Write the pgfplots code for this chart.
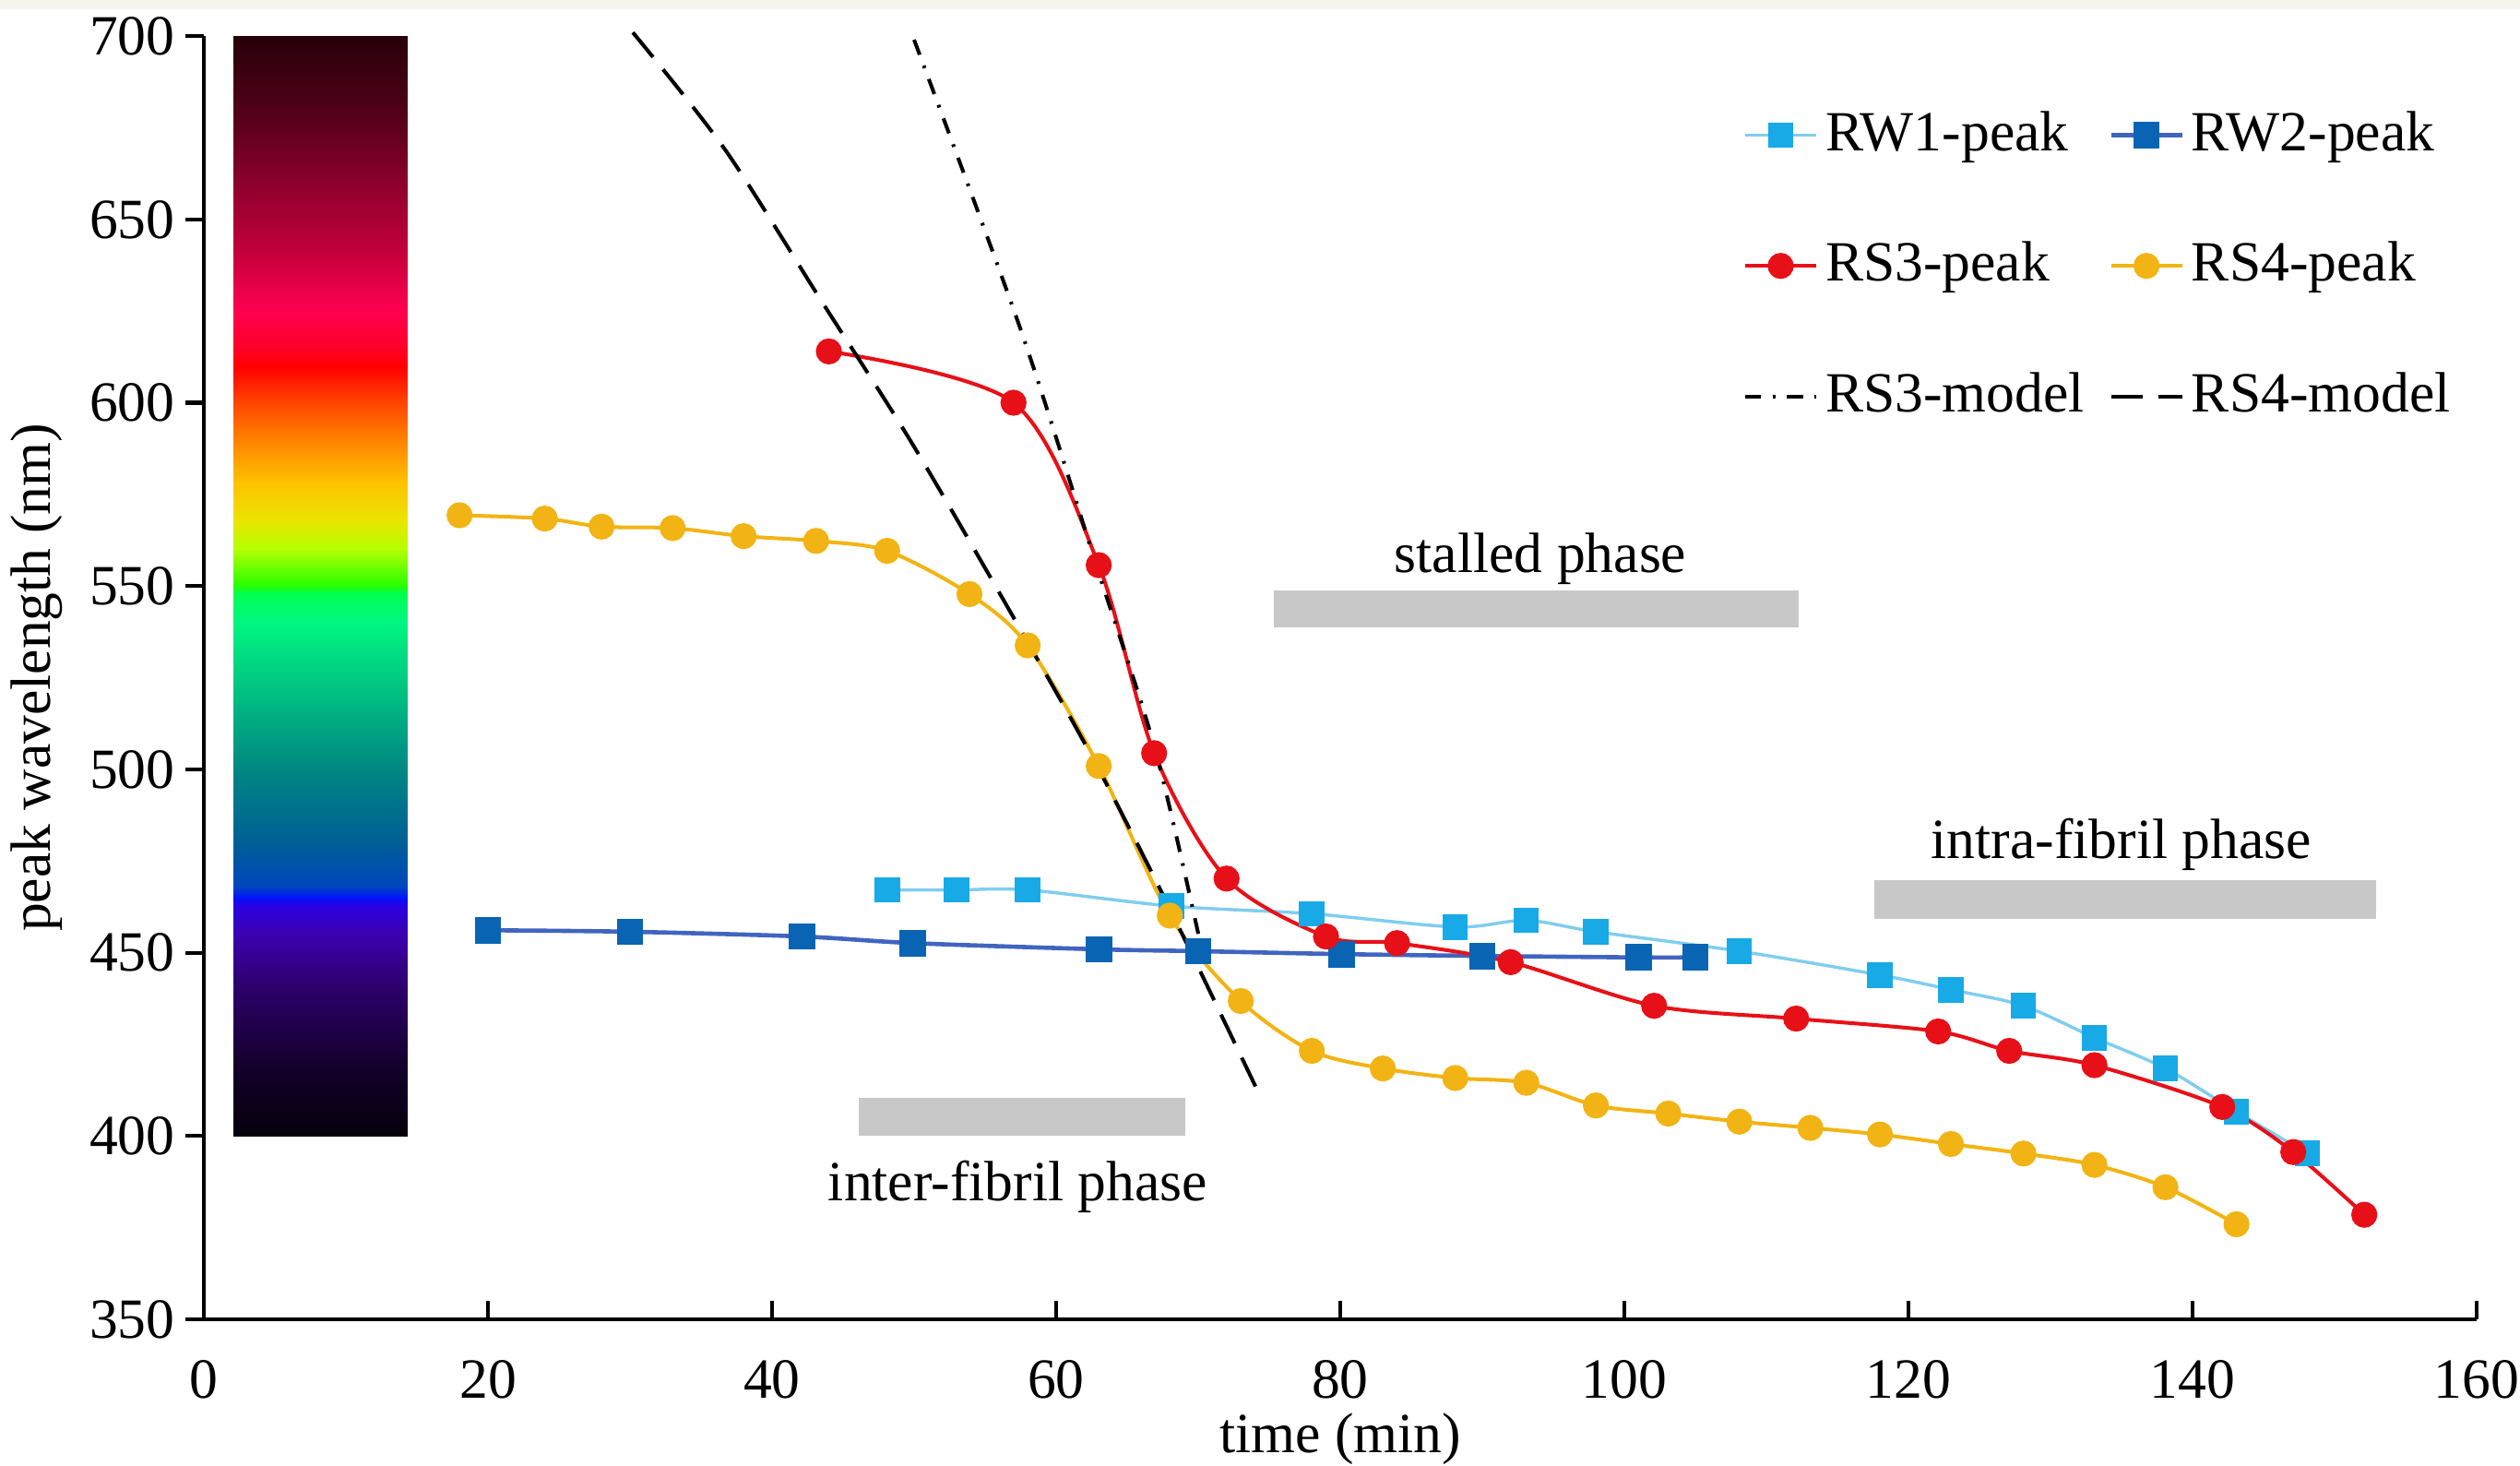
\documentclass[border=0pt]{standalone}
\usepackage{fontspec}
\setmainfont{Liberation Serif}
\usepackage{pgfplots}
\pgfplotsset{compat=1.18}
\usetikzlibrary{calc}
\definecolor{rwone}{RGB}{24,170,230}
\definecolor{rwoneline}{RGB}{128,205,240}
\definecolor{rwtwo}{RGB}{10,100,180}
\definecolor{rwtwoline}{RGB}{64,100,192}
\definecolor{rsthree}{RGB}{232,16,24}
\definecolor{rsfour}{RGB}{242,180,20}
\definecolor{phasegray}{RGB}{200,200,200}
\definecolor{topband}{RGB}{246,243,236}
\pgfplotsset{colormap={spectrum}{
 rgb255(0pt)=(5,0,12) rgb255(20pt)=(20,0,45) rgb255(40pt)=(45,0,105) rgb255(55pt)=(60,0,175)
 rgb255(63pt)=(40,0,225) rgb255(65pt)=(0,20,255) rgb255(68pt)=(0,70,190) rgb255(80pt)=(0,95,150)
 rgb255(100pt)=(0,135,130) rgb255(120pt)=(0,190,130) rgb255(140pt)=(0,245,130) rgb255(148pt)=(0,255,80)
 rgb255(150pt)=(40,255,0) rgb255(160pt)=(180,255,0) rgb255(168pt)=(235,228,0) rgb255(178pt)=(255,195,0)
 rgb255(190pt)=(255,130,0) rgb255(200pt)=(255,70,0) rgb255(210pt)=(255,0,0) rgb255(215pt)=(255,0,40)
 rgb255(225pt)=(255,0,80) rgb255(240pt)=(200,0,60) rgb255(260pt)=(140,0,45) rgb255(280pt)=(80,0,25)
 rgb255(300pt)=(40,0,8)}}
\begin{document}
\fontsize{10.7}{12.8}\selectfont
\begin{tikzpicture}
\begin{axis}[name=ax,
  scale only axis, width=428pt, height=241.6pt,
  xmin=0, xmax=160, ymin=350, ymax=700,
  axis lines*=left, axis line style={line width=0.7pt},
  xtick={0,20,...,160}, ytick={350,400,...,700},
  tick align=inside, major tick length=3.4pt,
  tick style={line width=0.7pt, black},
  ytick style={xshift=-3.4pt},
  xticklabel style={yshift=-4pt},
  yticklabel style={xshift=-1.7pt},
  /pgf/number format/assume math mode=true,
  xlabel={time (min)},
  xlabel style={at={(axis description cs:0.5,0)}, anchor=north, yshift=-14pt},
  clip=false,
  legend columns=2,
  legend cell align=left,
  legend style={at={(axis cs:108.3,680.7)}, anchor=north west, draw=none, fill=none, inner sep=0pt,
    row sep=14.4pt,
    /tikz/every odd column/.append style={column sep=0.8pt},
    /tikz/every even column/.append style={column sep=4pt},
    nodes={inner sep=0.6pt}},
  legend image code/.code={\draw[#1, mark repeat=2, mark phase=2] plot coordinates {(0pt,0pt) (6.7pt,0pt) (13.4pt,0pt)};},
]
% colour bar
\addplot[surf, shader=interp, colormap name=spectrum, point meta=y, point meta min=400, point meta max=700,
  mesh/rows=25, mesh/cols=2, forget plot] coordinates {
(2.1,400) (14.3,400)
(2.1,420) (14.3,420)
(2.1,440) (14.3,440)
(2.1,455) (14.3,455)
(2.1,463) (14.3,463)
(2.1,465) (14.3,465)
(2.1,468) (14.3,468)
(2.1,480) (14.3,480)
(2.1,500) (14.3,500)
(2.1,520) (14.3,520)
(2.1,540) (14.3,540)
(2.1,548) (14.3,548)
(2.1,550) (14.3,550)
(2.1,560) (14.3,560)
(2.1,568) (14.3,568)
(2.1,578) (14.3,578)
(2.1,590) (14.3,590)
(2.1,600) (14.3,600)
(2.1,610) (14.3,610)
(2.1,615) (14.3,615)
(2.1,625) (14.3,625)
(2.1,640) (14.3,640)
(2.1,660) (14.3,660)
(2.1,680) (14.3,680)
(2.1,700) (14.3,700)
};
% phase bars
\addplot[fill=phasegray, draw=none, forget plot] coordinates {(75.3,538.6) (112.3,538.6) (112.3,548.7) (75.3,548.7)} -- cycle;
\addplot[fill=phasegray, draw=none, forget plot] coordinates {(117.6,459.2) (152.9,459.2) (152.9,469.7) (117.6,469.7)} -- cycle;
\addplot[fill=phasegray, draw=none, forget plot] coordinates {(46.1,400.0) (69.1,400.0) (69.1,410.5) (46.1,410.5)} -- cycle;
\node[anchor=base] at (axis cs:94.1,553.7) {stalled phase};
\node[anchor=base] at (axis cs:135,475.7) {intra-fibril phase};
\node[anchor=base] at (axis cs:57.3,382.2) {inter-fibril phase};
% RW1
\addplot[color=rwoneline, line width=0.6pt, smooth, mark=square*, mark size=2.1pt,
  mark options={fill=rwone, draw=rwone}] coordinates {
(48.1,467.1) (53.0,467.1) (58.0,467.1) (68.1,462.7) (78.0,460.6) (88.1,457.0) (93.1,458.8) (98.0,455.7)
(108.1,450.4) (118.0,443.9) (123.0,439.9) (128.1,435.5) (133.1,426.8) (138.1,418.4) (143.1,406.6) (148.1,395.2)
};
\addlegendentry{RW1-peak}
% RW2
\addplot[color=rwtwoline, line width=0.8pt, smooth, mark=square*, mark size=2.1pt,
  mark options={fill=rwtwo, draw=rwtwo}] coordinates {
(20.0,456.1) (30.0,455.7) (42.1,454.4) (49.9,452.6) (63.0,450.9) (70.0,450.4) (80.1,449.6) (90.0,449.1)
(101.0,448.7) (105.0,448.7)
};
\addlegendentry{RW2-peak}
% RS3
\addplot[color=rsthree, line width=0.7pt, smooth, mark=*, mark size=2.1pt,
  mark options={fill=rsthree, draw=rsthree}] coordinates {
(44.0,614.0) (57.0,600.0) (63.0,555.7) (66.9,504.4) (72.0,470.2) (79.0,454.4) (84.0,452.6) (92.0,447.4)
(102.1,435.5) (112.1,432.0) (122.1,428.5) (127.1,423.2) (133.1,419.3) (142.1,407.9) (147.1,395.6) (152.1,378.5)
};
\addlegendentry{RS3-peak}
% RS4
\addplot[color=rsfour, line width=0.7pt, smooth, mark=*, mark size=2.1pt,
  mark options={fill=rsfour, draw=rsfour}] coordinates {
(18.0,569.3) (24.0,568.4) (28.0,566.2) (33.0,565.8) (38.0,563.6) (43.1,562.3) (48.1,559.6) (53.9,547.8)
(58.0,533.8) (63.0,500.9) (68.0,460.1) (73.0,436.8) (78.0,423.2) (83.0,418.4) (88.1,415.8) (93.1,414.5)
(98.0,408.3) (103.1,406.1) (108.1,403.9) (113.1,402.2) (118.0,400.4) (123.0,397.8) (128.1,395.2) (133.1,392.1)
(138.1,386.0) (143.1,375.9)
};
\addlegendentry{RS4-peak}
% RS3 model
\addplot[black, line width=0.7pt, smooth, dash pattern=on 3pt off 2.2pt on 0.5pt off 2.2pt] coordinates {
(50.0,699) (57.5,620) (62.8,556) (67.0,505) (70.3,450)
};
\addlegendentry{RS3-model}
% RS4 model
\addplot[black, line width=0.7pt, smooth, dash pattern=on 6pt off 3pt] coordinates {
(30.2,701) (36.7,669) (43.6,627) (50.0,588) (58.1,534) (63.0,500) (68.0,462) (74.1,413)
};
\addlegendentry{RS4-model}
\end{axis}
\fill[topband] ($(ax.north west)+(-38.4pt,6.8pt)$) rectangle ($(ax.north east)+(8.2pt,5.1pt)$);
\node[rotate=90, anchor=center] at ($(ax.west)+(-31.5pt,0)$) {peak wavelength (nm)};
\pgfresetboundingbox
\path[use as bounding box] ($(ax.south west)+(-38.4pt,-27.6pt)$) rectangle ($(ax.north east)+(8.2pt,6.8pt)$);
\end{tikzpicture}
\end{document}
